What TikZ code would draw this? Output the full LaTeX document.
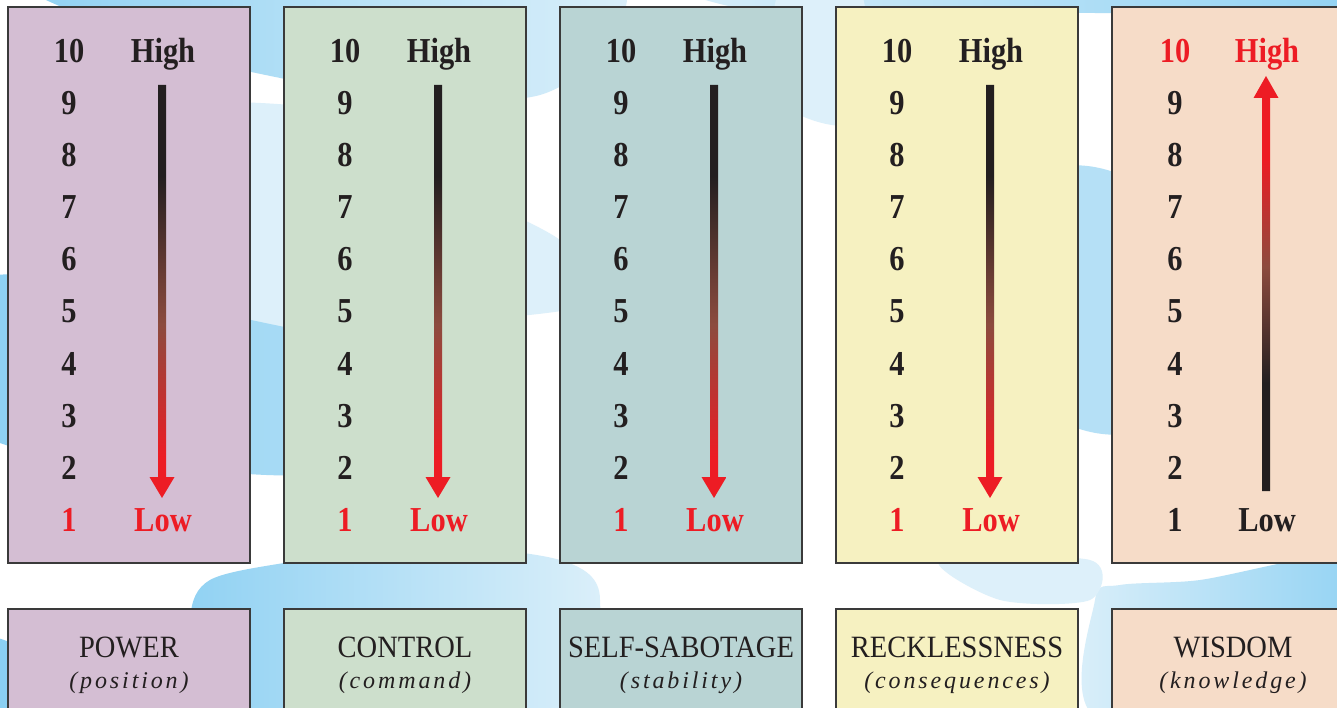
\documentclass[tikz,border=0pt]{standalone}
\usepackage{fontspec}
\setmainfont{Liberation Serif}
\newfontfamily\numfont[FakeStretch=0.87]{Liberation Serif}
\newfontfamily\labfont[FakeStretch=0.92]{Liberation Serif}
\newfontfamily\subfont[LetterSpace=12]{Liberation Serif}
\usetikzlibrary{calc}
\definecolor{tblack}{HTML}{231F20}
\definecolor{ared}{HTML}{ED1C24}
\definecolor{abrown}{HTML}{8C4B3E}
\definecolor{bordc}{HTML}{3A3A3A}
\definecolor{cA}{HTML}{D4BED3}
\definecolor{cB}{HTML}{CDDFCC}
\definecolor{cC}{HTML}{B9D4D4}
\definecolor{cD}{HTML}{F6F1C1}
\definecolor{cE}{HTML}{F6DCC8}
\definecolor{bA}{HTML}{8ACFF2}
\definecolor{bB}{HTML}{B5E0F6}
\definecolor{bC}{HTML}{DDF0FA}
\pgfdeclareverticalshading{hilo}{100bp}{color(0bp)=(ared); color(25bp)=(ared); color(30bp)=(ared); color(46bp)=(abrown); color(64bp)=(tblack); color(75bp)=(tblack); color(100bp)=(tblack)}
\pgfdeclareverticalshading{lohi}{100bp}{color(0bp)=(tblack); color(25bp)=(tblack); color(38bp)=(tblack); color(52bp)=(abrown); color(65bp)=(ared); color(75bp)=(ared); color(100bp)=(ared)}
\begin{document}
\begin{tikzpicture}[x=1pt,y=-1pt,
  panel/.style={draw=bordc, line width=2.5pt, minimum width=242pt, inner sep=0pt},
  numst/.style={anchor=base, inner sep=0pt, font=\numfont\bfseries\fontsize{35}{40}\selectfont, text=tblack},
  labst/.style={anchor=base, inner sep=0pt, font=\labfont\fontsize{31}{36}\selectfont, text=tblack},
  subst/.style={anchor=base, inner sep=0pt, font=\subfont\itshape\fontsize{24}{28}\selectfont, text=tblack}]
\useasboundingbox (0,0) rectangle (1337,708);
\begin{scope}
\clip (0,0) rectangle (1337,708);
% background
\fill[white] (0,0) rectangle (1337,708);
\fill[bC] plot[smooth cycle] coordinates {(120,120) (330,110) (440,180) (560,240) (600,300) (480,320) (330,330) (150,300)};
\shade[left color=bA, right color=bC] plot[smooth cycle] coordinates {(40,-30) (580,-30) (610,40) (540,95) (400,100) (290,80) (180,55) (90,20)};
\shade[left color=bA, right color=bB] plot[smooth cycle] coordinates {(-20,280) (150,300) (300,330) (420,350) (430,440) (300,475) (120,460) (-20,430)};
\shade[left color=bA, right color=bC] plot[smooth cycle] coordinates {(190,620) (210,580) (290,562) (420,545) (560,560) (600,600) (560,720) (200,720)};
\shade[left color=bC, right color=bA] plot[smooth cycle] coordinates {(1095,600) (1120,585) (1200,580) (1300,560) (1360,560) (1360,720) (1100,720)};
\fill[bC] plot[smooth cycle] coordinates {(940,560) (1000,600) (1090,600) (1090,560)};
\fill[bA] plot[smooth cycle] coordinates {(-30,640) (20,650) (30,720) (-30,720)};
\shade[left color=bC, right color=bA] plot[smooth cycle] coordinates {(700,-30) (1360,-30) (1360,8) (1250,14) (1000,12) (750,10)};
\fill[bB] plot[smooth cycle] coordinates {(1040,180) (1150,200) (1150,420) (1040,400)};
\fill[bC] plot[smooth cycle] coordinates {(780,-10) (860,-10) (860,120) (780,100)};
% panels
\foreach \i/\col/\name/\sub in {1/cA/POWER/position, 2/cB/CONTROL/command, 3/cC/SELF-SABOTAGE/stability, 4/cD/RECKLESSNESS/consequences, 5/cE/WISDOM/knowledge}{
  \pgfmathsetmacro{\cx}{129+276*(\i-1)}
  \node[panel, fill=\col, minimum height=556pt] (p\i) at (\cx,285) {};
  \node[panel, fill=\col, minimum height=200pt] (q\i) at (\cx,709) {};
  \node[labst] (t\i) at (\cx,657) {\name};
  \node[subst] (s\i) at (\cx,688) {(\sub)};
}
% scales 1-4
\foreach \i in {1,2,3,4}{
  \pgfmathsetmacro{\nx}{69+276*(\i-1)}
  \pgfmathsetmacro{\hx}{163+276*(\i-1)}
  \foreach \n in {2,...,10}{
    \node[numst] (n\i-\n) at (\nx,{63+52*(10-\n)}) {\n};
  }
  \node[numst, text=ared] (n\i-1) at (\nx,531) {1};
  \node[numst] (hi\i) at (\hx,63) {High};
  \node[numst, text=ared] (lo\i) at (\hx,531) {Low};
  \coordinate (t\i) at ($(hi\i.base)+(-1,22)$);
  \coordinate (b\i) at ($(lo\i.base)+(-1,-33)$);
  \shade[shading=hilo] ($(t\i)+(-4,0)$) -- ($(t\i)+(4,0)$) -- ($(b\i)+(4,-21)$) -- ($(b\i)+(12.5,-21)$) -- (b\i) -- ($(b\i)+(-12.5,-21)$) -- ($(b\i)+(-4,-21)$) -- cycle;
}
% scale 5
\foreach \n in {1,...,9}{
  \node[numst] (n5-\n) at (1175,{63+52*(10-\n)}) {\n};
}
\node[numst, text=ared] (n5-10) at (1175,63) {10};
\node[numst, text=ared] (hi5) at (1267,63) {High};
\node[numst] (lo5) at (1267,531) {Low};
\coordinate (t5) at ($(hi5.base)+(-1,13)$);
\coordinate (b5) at ($(lo5.base)+(-1,-40)$);
\shade[shading=lohi] (t5) -- ($(t5)+(12.5,22)$) -- ($(t5)+(4,22)$) -- ($(b5)+(4,0)$) -- ($(b5)+(-4,0)$) -- ($(t5)+(-4,22)$) -- ($(t5)+(-12.5,22)$) -- cycle;
\end{scope}
\end{tikzpicture}
\end{document}
